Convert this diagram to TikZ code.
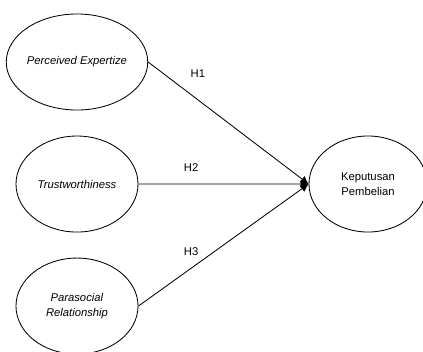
\documentclass[tikz,border=0pt]{standalone}
\usepackage{fontspec}
\setmainfont{Liberation Sans}
\usetikzlibrary{shapes.geometric, arrows.meta}

\begin{document}
\begin{tikzpicture}[x=0.025cm, y=-0.025cm, line width=0.6pt, node distance = {3.05cm},
	var/.style = {draw, ellipse, minimum width=3.05cm, minimum height=2.4cm, inner sep=0pt, align=center, font=\fontsize{8}{10.5}\selectfont},
	hyp/.style = {font=\fontsize{8}{9}\selectfont, inner sep=1pt}]
	\useasboundingbox (0,0) rectangle (423,351);
	\node[var] (pe) at (77,62) {\textit{Perceived Expertize}};
	\node[var] (tw) [below of=pe] {\textit{Trustworthiness}};
	\node[var] (pr) [below of=tw] {\textit{Parasocial}\\\textit{Relationship}};
	\node[var, minimum width=2.95cm] (kp) at (368,184) {Keputusan\\Pembelian};
	\draw[-{Latex[length=2mm, width=2mm]}] (pe.east) -- (kp.west) node[hyp, pos=0.31, above=0.5cm] {H1};
	\draw[-{Latex[length=2mm, width=2mm]}] (tw.east) -- (kp.west) node[hyp, pos=0.31, above=0.27cm] {H2};
	\draw[-{Latex[length=2mm, width=2mm]}] (pr.east) -- (kp.west) node[hyp, pos=0.31, above=0.27cm] {H3};
	
	%\caption{Model penelitian}
\end{tikzpicture}
\end{document}
